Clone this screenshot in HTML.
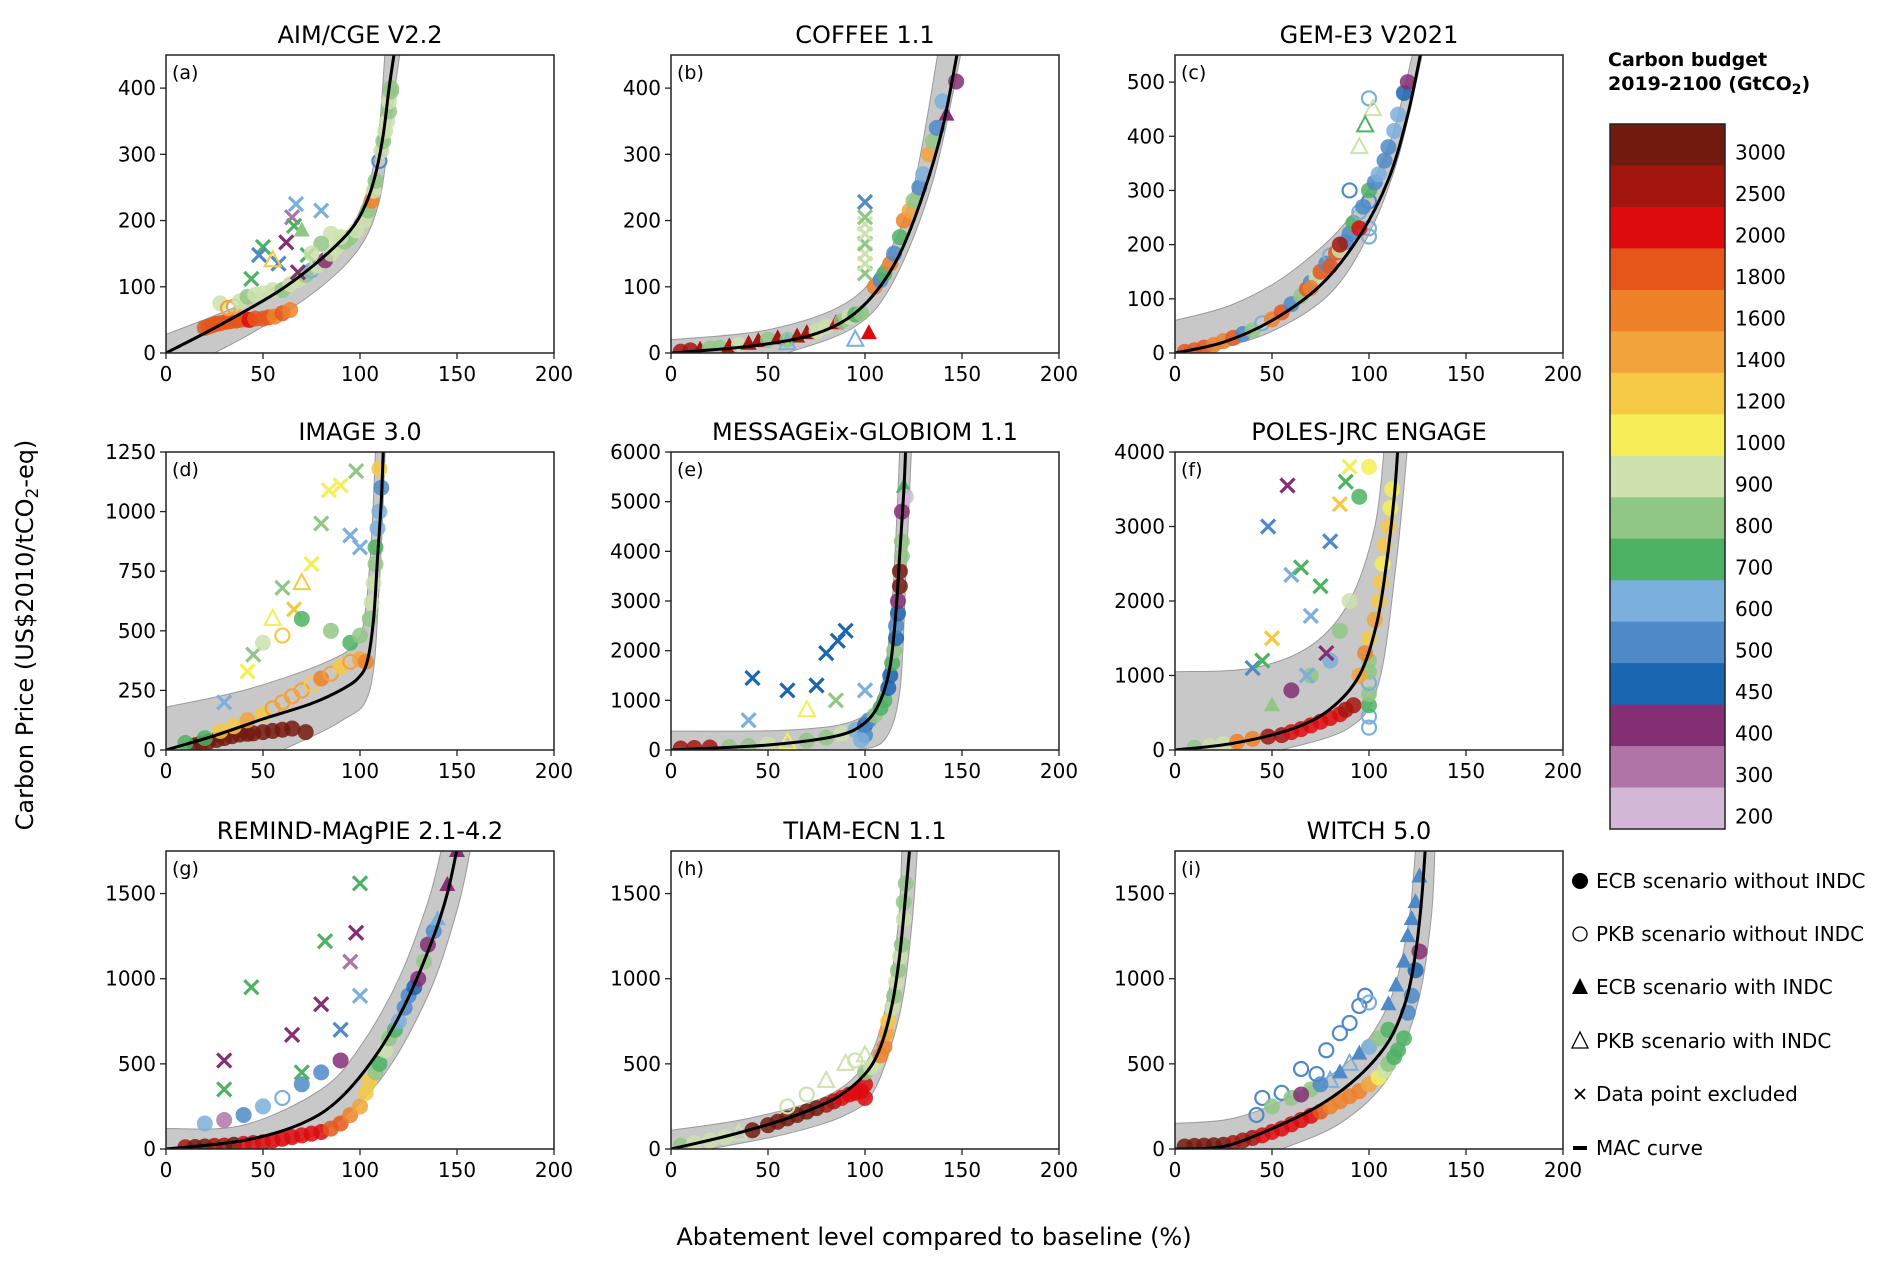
<!DOCTYPE html>
<html><head><meta charset="utf-8">
<style>
html,body{margin:0;padding:0;background:#fff;}
svg{display:block;font-family:"DejaVu Sans","Liberation Sans",sans-serif;}
</style></head>
<body>
<svg id="fig" width="1892" height="1271" viewBox="0 0 1892 1271" xmlns="http://www.w3.org/2000/svg">
<text x="33" y="635" font-size="24" text-anchor="middle" transform="rotate(-90 33 635)">Carbon Price (US$2010/tCO<tspan font-size="17" dy="5">2</tspan><tspan dy="-5">-eq)</tspan></text>
<text x="934" y="1245" font-size="24" text-anchor="middle">Abatement level compared to baseline (%)</text>
<g id="panels"></g>
<g id="cbar"></g>
<g id="legend"></g>
</svg>
<script>
const budgetLabels=["3000","2500","2000","1800","1600","1400","1200","1000","900","800","700","600","500","450","400","300","200"];
const budgetColors=["#731a0e","#a3150f","#dd0a0e","#e5561b","#ef8129","#f3a33b","#f5c945","#f5ee56","#cde2ad","#91c785","#4eb264","#7bafdc","#4e8ac7","#1b66b0","#842e73","#b075a6","#d3b7d6"];
const titles=["AIM/CGE V2.2","COFFEE 1.1","GEM-E3 V2021","IMAGE 3.0","MESSAGEix-GLOBIOM 1.1","POLES-JRC ENGAGE","REMIND-MAgPIE 2.1-4.2","TIAM-ECN 1.1","WITCH 5.0"];
const panelLetters=["(a)","(b)","(c)","(d)","(e)","(f)","(g)","(h)","(i)"];
const yMax=[450,450,550,1250,6000,4000,1750,1750,1750];
const yTicks=[[0,100,200,300,400],[0,100,200,300,400],[0,100,200,300,400,500],[0,250,500,750,1000,1250],[0,1000,2000,3000,4000,5000,6000],[0,1000,2000,3000,4000],[0,500,1000,1500],[0,500,1000,1500],[0,500,1000,1500]];
const xTicks=[0,50,100,150,200];
// MAC curves
const curves=[
[[0,0],[20,30],[40,62],[60,97],[80,142],[95,185],[103,225],[108,270],[112,330],[115,400],[118,460]],
[[0,0],[40,10],[70,25],[90,50],[105,90],[118,150],[130,240],[140,340],[148,460]],
[[0,0],[25,20],[50,60],[75,125],[95,215],[110,320],[120,440],[127,560]],
[[0,0],[25,60],[50,130],[75,195],[92,260],[100,310],[104,380],[107,550],[109,800],[111,1050],[112,1260]],
[[0,0],[50,100],[85,280],[100,550],[108,1000],[113,1700],[116,2800],[118,4000],[120,5200],[121,6100]],
[[0,0],[30,90],[60,280],[80,550],[95,1000],[104,1700],[109,2500],[113,3400],[115,4100]],
[[0,0],[40,50],[70,150],[90,300],[110,580],[125,890],[138,1250],[145,1500],[150,1760]],
[[0,0],[30,80],[60,180],[85,300],[100,440],[108,600],[114,850],[118,1150],[121,1500],[123,1760]],
[[0,0],[25,15],[50,120],[75,260],[95,430],[110,630],[119,870],[124,1150],[127,1450],[129,1760]]];
const bandUpper=[
[[0,28],[40,75],[70,125],[90,170],[100,215],[106,270],[110,340],[113,460]],
[[0,20],[50,35],[90,75],[110,140],[125,250],[138,460]],
[[0,60],[30,90],[60,150],[90,250],[110,380],[123,560]],
[[0,180],[40,250],[80,360],[98,450],[103,600],[106,900],[108,1260]],
[[0,380],[60,400],[95,600],[108,1200],[114,3000],[118,6100]],
[[0,1050],[40,1100],[70,1400],[90,2000],[103,3000],[108,4100]],
[[0,120],[40,140],[80,350],[100,600],[120,1000],[135,1450],[142,1760]],
[[0,110],[40,180],[80,310],[100,500],[110,800],[117,1300],[119,1760]],
[[0,150],[30,180],[60,310],[90,520],[110,850],[120,1300],[124,1760]]];
const bandLower=[
[[25,0],[50,40],[80,100],[100,160],[110,230],[115,330],[118,400],[121,460]],
[[60,0],[95,40],[115,110],[135,260],[150,460]],
[[15,0],[50,40],[80,110],[100,220],[115,360],[128,560]],
[[60,0],[90,120],[105,250],[110,700],[113,1260]],
[[95,0],[110,200],[118,1200],[121,3500],[124,6100]],
[[55,0],[90,300],[105,900],[114,2500],[120,4100]],
[[50,0],[80,100],[110,400],[135,900],[150,1400],[157,1760]],
[[20,0],[60,90],[90,200],[105,350],[118,800],[124,1300],[127,1760]],
[[55,0],[85,150],[110,420],[125,850],[132,1350],[134,1760]]];
// scatter points: [x, y, budgetIndex, marker] marker: o filled, c open, ^ filled tri, t open tri, x excluded
const ptsA=[[20,38,3,"o"],[22,40,3,"o"],[24,42,3,"o"],[26,44,3,"o"],[28,45,3,"o"],[31,47,3,"o"],[33,48,3,"o"],[36,49,3,"o"],[38,50,3,"o"],[41,51,3,"o"],[43,50,2,"o"],[46,52,3,"o"],[50,52,3,"o"],[53,54,3,"o"],[56,55,4,"o"],[60,60,3,"o"],[64,65,4,"o"],[28,75,8,"o"],[32,68,5,"c"],[35,70,5,"c"],[38,78,8,"o"],[42,85,9,"o"],[46,88,8,"o"],[50,90,8,"o"],[55,95,8,"o"],[60,95,9,"o"],[64,104,8,"o"],[68,110,8,"o"],[72,118,9,"o"],[75,125,11,"c"],[78,132,8,"o"],[82,140,14,"o"],[85,150,8,"o"],[88,160,8,"o"],[92,168,9,"o"],[95,175,9,"o"],[98,185,8,"o"],[102,200,8,"o"],[104,215,9,"o"],[106,230,4,"o"],[107,245,8,"o"],[108,260,9,"o"],[110,290,12,"c"],[111,305,8,"o"],[112,320,9,"o"],[113,335,8,"o"],[114,350,8,"o"],[115,365,9,"o"],[115,380,8,"o"],[116,395,9,"o"],[116,400,9,"o"],[67,225,11,"x"],[80,215,11,"x"],[65,205,15,"x"],[66,192,10,"x"],[62,167,14,"x"],[50,160,10,"x"],[48,148,12,"x"],[44,112,10,"x"],[73,148,10,"x"],[58,135,12,"x"],[68,122,14,"x"],[70,185,9,"^"],[55,140,6,"t"],[85,180,8,"o"],[90,175,8,"o"],[80,165,9,"o"],[75,150,8,"o"]];
const ptsB=[[5,2,1,"o"],[10,4,1,"o"],[15,5,1,"^"],[20,7,9,"o"],[25,8,9,"o"],[30,10,1,"^"],[35,12,8,"o"],[40,14,1,"^"],[45,18,1,"^"],[50,20,9,"o"],[55,22,1,"^"],[60,20,9,"o"],[65,25,1,"^"],[70,30,1,"^"],[75,33,8,"o"],[80,40,8,"o"],[85,45,2,"^"],[88,48,9,"o"],[92,55,8,"o"],[95,58,10,"o"],[98,60,9,"o"],[102,30,2,"^"],[100,120,9,"x"],[100,135,8,"x"],[100,150,8,"x"],[100,165,9,"x"],[100,180,8,"x"],[100,195,8,"x"],[100,205,9,"x"],[100,228,12,"x"],[105,100,4,"o"],[108,110,12,"o"],[110,120,10,"o"],[113,135,4,"o"],[115,150,12,"o"],[118,175,10,"o"],[120,200,4,"o"],[123,215,5,"o"],[125,230,9,"o"],[128,250,12,"o"],[130,270,11,"o"],[133,300,5,"o"],[135,320,9,"o"],[137,340,12,"o"],[142,360,14,"^"],[140,380,11,"o"],[147,410,14,"o"],[95,20,11,"t"],[60,15,11,"t"]];
const ptsC=[[5,2,3,"o"],[10,5,3,"o"],[15,10,3,"o"],[20,15,4,"o"],[25,22,4,"o"],[30,28,3,"o"],[35,35,12,"o"],[40,42,9,"o"],[45,55,11,"c"],[50,62,4,"o"],[55,75,3,"o"],[60,90,12,"o"],[65,105,9,"o"],[68,118,3,"o"],[70,130,12,"o"],[73,140,8,"o"],[75,150,3,"o"],[78,165,12,"o"],[80,180,11,"c"],[83,185,3,"o"],[85,190,8,"o"],[88,205,12,"o"],[90,220,12,"o"],[92,240,10,"o"],[95,260,11,"c"],[97,270,12,"o"],[100,280,12,"c"],[100,230,11,"c"],[100,215,11,"c"],[100,300,10,"o"],[103,315,12,"o"],[105,330,11,"o"],[108,355,12,"o"],[110,380,12,"o"],[113,410,11,"o"],[115,440,11,"o"],[118,480,13,"o"],[120,500,14,"o"],[100,470,11,"c"],[102,450,8,"t"],[98,420,10,"t"],[95,380,8,"t"],[90,300,12,"c"],[85,200,1,"o"],[95,230,2,"o"],[80,160,3,"o"],[70,120,4,"o"]];
const ptsD=[[15,20,0,"o"],[18,28,0,"o"],[22,35,0,"o"],[26,42,0,"o"],[30,50,0,"o"],[34,58,0,"o"],[38,65,0,"o"],[42,68,0,"o"],[45,70,0,"o"],[50,75,0,"o"],[55,80,0,"o"],[60,85,0,"o"],[65,90,0,"o"],[72,75,0,"o"],[10,30,10,"o"],[20,50,10,"o"],[28,80,6,"o"],[35,100,6,"o"],[42,125,5,"o"],[50,150,6,"o"],[55,175,5,"c"],[60,200,5,"c"],[65,225,5,"c"],[70,250,5,"c"],[75,275,6,"c"],[80,300,4,"o"],[85,320,5,"c"],[90,350,6,"o"],[95,370,5,"c"],[100,380,5,"o"],[103,370,4,"o"],[95,450,10,"o"],[100,480,9,"o"],[105,550,9,"o"],[106,620,8,"o"],[107,700,8,"o"],[108,780,9,"o"],[108,850,10,"o"],[109,930,11,"o"],[110,1000,11,"o"],[111,1100,12,"o"],[110,1180,6,"o"],[42,330,7,"x"],[55,550,7,"t"],[60,680,9,"x"],[66,590,6,"x"],[75,780,7,"x"],[84,1090,7,"x"],[90,1110,7,"x"],[98,1170,9,"x"],[95,900,11,"x"],[80,950,9,"x"],[70,700,6,"t"],[60,480,6,"c"],[100,850,11,"x"],[30,200,11,"x"],[45,400,9,"x"],[50,450,8,"o"],[70,550,10,"o"],[85,500,9,"o"]];
const ptsE=[[5,30,1,"o"],[12,40,1,"o"],[20,50,1,"o"],[30,60,9,"o"],[40,80,9,"o"],[50,110,8,"o"],[60,150,7,"t"],[70,190,9,"o"],[80,250,9,"o"],[88,330,8,"o"],[95,400,11,"o"],[100,500,13,"o"],[102,600,12,"o"],[105,700,9,"o"],[108,850,10,"o"],[110,1000,10,"o"],[112,1250,13,"o"],[113,1500,13,"o"],[114,1750,10,"o"],[115,2000,9,"o"],[116,2250,13,"o"],[116,2500,12,"o"],[117,2750,13,"o"],[117,3000,14,"o"],[118,3300,0,"o"],[118,3600,0,"o"],[119,3900,9,"o"],[119,4200,9,"o"],[119,4800,14,"o"],[120,5300,10,"^"],[121,5100,16,"o"],[42,1450,13,"x"],[60,1200,13,"x"],[75,1300,13,"x"],[80,1950,13,"x"],[86,2200,13,"x"],[90,2400,13,"x"],[40,600,11,"x"],[70,800,7,"t"],[85,1000,9,"x"],[100,1200,11,"x"],[100,300,12,"o"],[98,200,11,"o"]];
const ptsF=[[10,30,9,"o"],[18,50,8,"o"],[25,80,8,"o"],[32,110,4,"o"],[40,150,4,"o"],[48,180,1,"o"],[55,200,1,"o"],[60,240,2,"o"],[65,280,2,"o"],[70,330,2,"o"],[75,380,2,"o"],[80,430,2,"o"],[85,480,2,"o"],[88,540,1,"o"],[92,600,1,"o"],[100,300,11,"c"],[100,450,11,"c"],[100,600,10,"o"],[100,750,9,"o"],[100,900,11,"c"],[100,1050,9,"o"],[100,1200,9,"o"],[95,1000,5,"o"],[98,1300,4,"o"],[100,1500,6,"o"],[103,1750,5,"o"],[105,2000,6,"o"],[106,2250,6,"o"],[107,2500,7,"o"],[108,2750,6,"o"],[110,3000,6,"o"],[111,3250,7,"o"],[112,3500,7,"o"],[100,3800,7,"o"],[50,600,9,"^"],[60,800,14,"o"],[70,1000,9,"o"],[80,1200,11,"o"],[85,1600,9,"o"],[90,2000,8,"o"],[95,3400,10,"o"],[40,1100,12,"x"],[48,3000,12,"x"],[58,3550,14,"x"],[60,2350,11,"x"],[65,2450,10,"x"],[70,1800,11,"x"],[75,2200,10,"x"],[80,2800,12,"x"],[85,3300,6,"x"],[88,3600,10,"x"],[90,3800,7,"x"],[78,1300,14,"x"],[68,1000,11,"x"],[50,1500,6,"x"],[45,1200,10,"x"]];
const ptsG=[[10,10,1,"o"],[15,12,0,"o"],[20,15,0,"o"],[25,18,1,"o"],[30,20,1,"o"],[35,25,0,"o"],[40,30,2,"o"],[45,35,2,"o"],[50,40,2,"o"],[55,50,2,"o"],[60,60,2,"o"],[65,70,2,"o"],[70,80,2,"o"],[75,90,2,"o"],[80,100,2,"o"],[85,120,3,"o"],[90,150,3,"o"],[95,200,4,"o"],[100,250,5,"o"],[103,330,6,"o"],[105,400,6,"o"],[108,450,9,"o"],[110,500,10,"o"],[113,580,8,"o"],[115,650,9,"o"],[118,700,10,"o"],[120,750,11,"o"],[123,830,12,"o"],[125,900,12,"o"],[128,950,13,"o"],[130,1000,14,"o"],[133,1100,9,"o"],[135,1200,14,"o"],[138,1280,12,"o"],[140,1350,11,"^"],[145,1550,14,"^"],[150,1750,14,"^"],[20,150,11,"o"],[30,170,15,"o"],[40,200,12,"o"],[50,250,11,"o"],[60,300,11,"c"],[70,380,12,"o"],[80,450,12,"o"],[90,520,14,"o"],[44,950,10,"x"],[100,1560,10,"x"],[30,520,14,"x"],[65,670,14,"x"],[82,1220,10,"x"],[98,1270,14,"x"],[95,1100,15,"x"],[80,850,14,"x"],[30,350,10,"x"],[70,450,10,"x"],[90,700,12,"x"],[100,900,11,"x"]];
const ptsH=[[5,20,9,"o"],[12,35,8,"o"],[20,50,8,"o"],[28,70,8,"o"],[35,90,8,"t"],[42,110,0,"o"],[50,140,0,"o"],[55,160,0,"o"],[60,180,0,"o"],[65,200,0,"o"],[70,220,0,"o"],[75,240,0,"o"],[80,260,1,"o"],[84,280,1,"o"],[88,300,2,"o"],[92,320,2,"o"],[95,330,2,"o"],[98,340,2,"o"],[100,300,2,"o"],[100,380,2,"o"],[100,450,9,"o"],[103,480,8,"o"],[105,500,8,"o"],[108,550,4,"o"],[110,600,4,"o"],[111,680,5,"o"],[112,750,6,"o"],[114,830,8,"o"],[115,900,9,"o"],[116,980,8,"o"],[117,1050,9,"o"],[118,1130,8,"o"],[119,1200,9,"o"],[120,1350,8,"o"],[120,1450,9,"o"],[121,1560,9,"o"],[90,500,8,"t"],[80,400,8,"t"],[70,320,8,"c"],[100,550,8,"t"],[60,250,8,"c"],[95,520,8,"c"]];
const ptsI=[[5,15,0,"o"],[10,18,0,"o"],[15,20,0,"o"],[20,22,0,"o"],[25,25,0,"o"],[30,35,1,"o"],[35,50,1,"o"],[40,65,1,"o"],[45,80,2,"o"],[50,100,2,"o"],[55,120,2,"o"],[60,145,2,"o"],[65,170,2,"o"],[70,195,2,"o"],[75,220,3,"o"],[80,250,4,"o"],[85,280,4,"o"],[90,310,4,"o"],[95,340,4,"o"],[100,380,5,"o"],[105,420,7,"o"],[108,460,8,"o"],[110,500,9,"o"],[113,540,10,"o"],[115,580,10,"o"],[118,650,10,"o"],[120,800,12,"o"],[122,900,12,"o"],[124,1050,13,"o"],[126,1160,14,"o"],[45,300,12,"c"],[42,200,12,"c"],[55,330,12,"c"],[65,470,12,"c"],[73,440,12,"c"],[78,580,12,"c"],[85,680,12,"c"],[90,740,12,"c"],[95,840,12,"c"],[98,900,12,"c"],[100,860,11,"c"],[110,850,12,"^"],[114,960,12,"^"],[118,1100,12,"^"],[120,1250,12,"^"],[122,1350,12,"^"],[124,1450,12,"^"],[126,1600,12,"^"],[50,250,9,"o"],[60,300,9,"o"],[70,350,9,"o"],[80,400,11,"t"],[90,500,11,"t"],[100,600,11,"o"],[105,650,9,"o"],[110,700,10,"o"],[95,560,12,"^"],[85,450,12,"^"],[75,380,12,"o"],[65,320,14,"o"]];
const allPts=[ptsA,ptsB,ptsC,ptsD,ptsE,ptsF,ptsG,ptsH,ptsI];

const NS="http://www.w3.org/2000/svg";
const colLeft=[166,671,1175], rowTop=[55,452,851], PW=388, PH=298;
function mk(tag,attrs,parent){const e=document.createElementNS(NS,tag);for(const k in attrs)e.setAttribute(k,attrs[k]);parent.appendChild(e);return e;}
function smooth(P,move){ // Catmull-Rom through screen points
  let d=(move?"M":"L")+P[0][0]+","+P[0][1];
  for(let i=0;i<P.length-1;i++){
    const p0=P[Math.max(0,i-1)],p1=P[i],p2=P[i+1],p3=P[Math.min(P.length-1,i+2)];
    const c1=[p1[0]+(p2[0]-p0[0])/6,p1[1]+(p2[1]-p0[1])/6],c2=[p2[0]-(p3[0]-p1[0])/6,p2[1]-(p3[1]-p1[1])/6];
    d+=` C${c1[0]},${c1[1]} ${c2[0]},${c2[1]} ${p2[0]},${p2[1]}`;
  }
  return d;
}
const root=document.getElementById("panels");
const defs=mk("defs",{},document.getElementById("fig"));
for(let p=0;p<9;p++){
  const L=colLeft[p%3],T=rowTop[Math.floor(p/3)];
  const xs=v=>L+v/200*PW, ys=v=>T+PH-v/yMax[p]*PH;
  const g=mk("g",{},root);
  
  
  const cp=mk("clipPath",{id:"cp"+p},defs);mk("rect",{x:L,y:T,width:PW,height:PH},cp);
  const t=mk("text",{x:L+PW/2,y:T-12,"font-size":24,"text-anchor":"middle"},g);t.textContent=titles[p];
  
  
  const inner=mk("g",{"clip-path":"url(#cp"+p+")"},g);
  const up=bandUpper[p].map(q=>[xs(q[0]),ys(q[1])]);
  const lo=bandLower[p].map(q=>[xs(q[0]),ys(q[1])]).reverse();
  const d="M"+xs(0)+","+ys(0)+" L"+up[0][0]+","+up[0][1]+smooth(up,false).slice(1).replace(/^[^C]*/,"")+" L"+lo[0][0]+","+lo[0][1]+smooth(lo,false).replace(/^[^C]*/,"")+" Z";
  const band=mk("path",{d:d,fill:"#c8c8c8",stroke:"#9a9a9a","stroke-width":1},inner);
  
  
  allPts[p].forEach(q=>{
    const cx=xs(q[0]),cy=ys(q[1]),c=budgetColors[q[2]],m=q[3];let e;
    if(m==="o")e=mk("circle",{cx:cx,cy:cy,r:8,fill:c,"fill-opacity":0.85},inner);
    else if(m==="c")e=mk("circle",{cx:cx,cy:cy,r:7,fill:"none",stroke:c,"stroke-width":2.2},inner);
    else if(m==="^"||m==="t"){const pts=[cx,cy-9,cx-8,cy+6,cx+8,cy+6].join(",");e=mk("polygon",{points:pts,fill:m==="^"?c:"none",stroke:c,"stroke-width":m==="^"?0:2},inner);}
    else e=mk("path",{d:`M${cx-7},${cy-7}L${cx+7},${cy+7}M${cx-7},${cy+7}L${cx+7},${cy-7}`,stroke:c,"stroke-width":3.2},inner);
    
    
  });
  const cv=mk("path",{d:smooth(curves[p].map(q=>[xs(q[0]),ys(q[1])]),true),fill:"none",stroke:"#000","stroke-width":3,"stroke-linejoin":"round"},inner);
  
  
  mk("rect",{x:L,y:T,width:PW,height:PH,fill:"none",stroke:"#222","stroke-width":1.5},g);
  const lt=mk("text",{x:L+6,y:T+24,"font-size":19},g);lt.textContent=panelLetters[p];
  
  
  xTicks.forEach(v=>{mk("line",{x1:xs(v),x2:xs(v),y1:T+PH,y2:T+PH+6,stroke:"#222","stroke-width":1.3},g);
    const tx=mk("text",{x:xs(v),y:T+PH+28,"font-size":20,"text-anchor":"middle"},g);tx.textContent=v;
    
    });
  yTicks[p].forEach(v=>{mk("line",{x1:L-6,x2:L,y1:ys(v),y2:ys(v),stroke:"#222","stroke-width":1.3},g);
    const ty=mk("text",{x:L-10,y:ys(v)+7,"font-size":20,"text-anchor":"end"},g);ty.textContent=v;
    
    });
}
const cb=document.getElementById("cbar");
const cbL=1610,cbT=124,cbW=115,cbH=705,n=budgetColors.length,sh=cbH/n;
const ct1=mk("text",{x:1608,y:66,"font-size":19,"font-weight":"bold"},cb);ct1.textContent="Carbon budget";


const ct2=mk("text",{x:1608,y:90,"font-size":19,"font-weight":"bold"},cb);ct2.innerHTML='2019-2100 (GtCO<tspan font-size="14" dy="4">2</tspan><tspan dy="-4">)</tspan>';


budgetColors.forEach((c,i)=>{
  const r=mk("rect",{x:cbL,y:cbT+i*sh,width:cbW,height:sh+0.5,fill:c},cb);
  
  
  const tx=mk("text",{x:cbL+cbW+10,y:cbT+i*sh+sh/2+15,"font-size":20},cb);tx.textContent=budgetLabels[i];
  
  
});
mk("rect",{x:cbL,y:cbT,width:cbW,height:cbH,fill:"none",stroke:"#222","stroke-width":1.5},cb);
const lg=document.getElementById("legend");
const legText=["ECB scenario without INDC","PKB scenario without INDC","ECB scenario with INDC","PKB scenario with INDC","Data point excluded","MAC curve"];
const legY=[881,934,987,1041,1094,1148];
legText.forEach((s,i)=>{
  const y=legY[i],x=1580;
  if(i===0)mk("circle",{cx:x,cy:y,r:8,fill:"#000"},lg);
  if(i===1)mk("circle",{cx:x,cy:y,r:7,fill:"none",stroke:"#000","stroke-width":1.3},lg);
  if(i===2)mk("polygon",{points:`${x},${y-9} ${x-8},${y+7} ${x+8},${y+7}`,fill:"#000"},lg);
  if(i===3)mk("polygon",{points:`${x},${y-9} ${x-8},${y+7} ${x+8},${y+7}`,fill:"none",stroke:"#000","stroke-width":1.3},lg);
  if(i===4)mk("path",{d:`M${x-5},${y-5}L${x+5},${y+5}M${x-5},${y+5}L${x+5},${y-5}`,stroke:"#000","stroke-width":1.8},lg);
  if(i===5)mk("line",{x1:x-7,x2:x+7,y1:y,y2:y,stroke:"#000","stroke-width":4},lg);
  const t=mk("text",{x:1596,y:y+7,"font-size":20},lg);t.textContent=s;
  
  
});
</script>
</body></html>
